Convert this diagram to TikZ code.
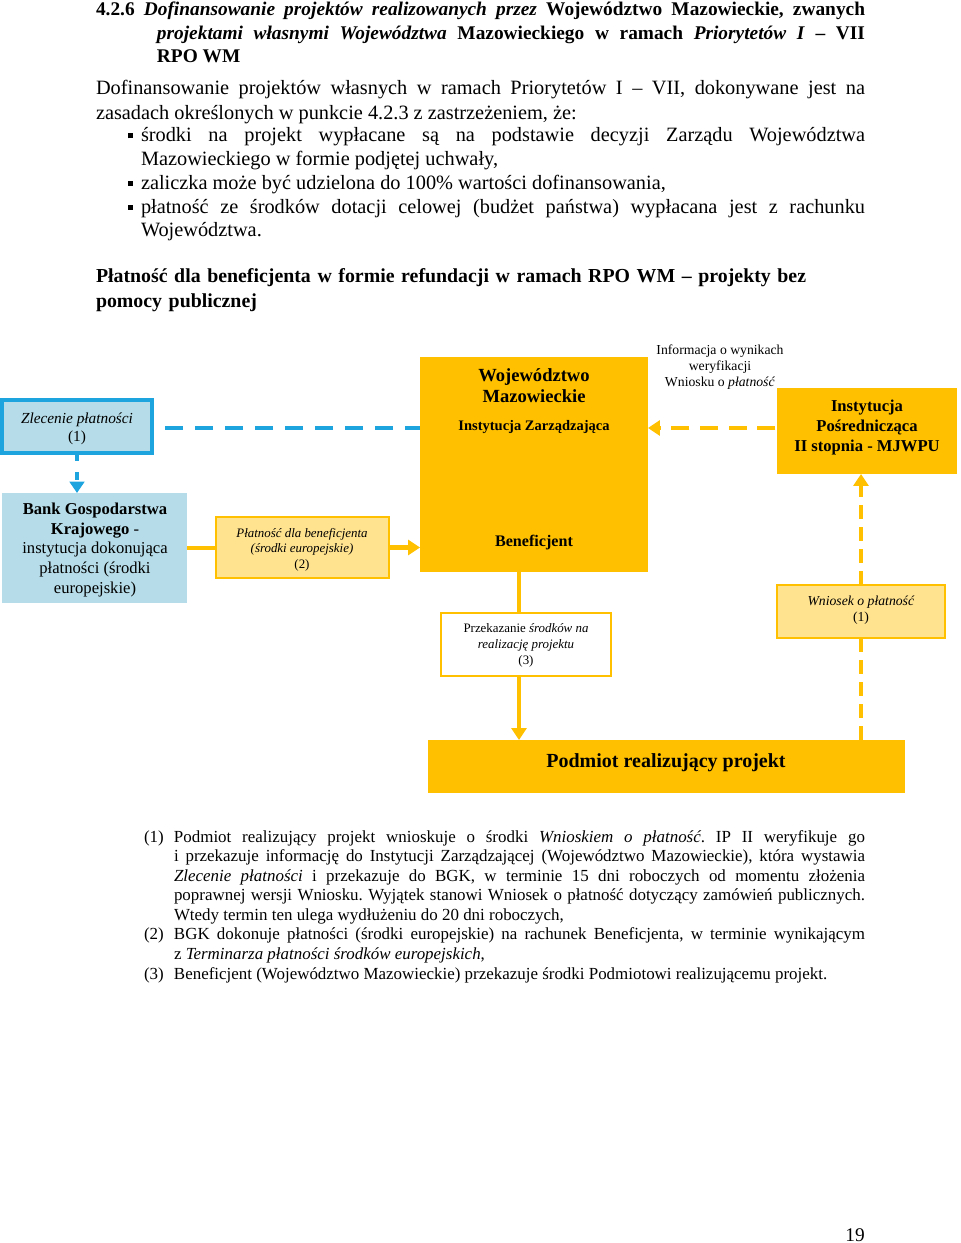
\documentclass[tikz,border=0pt]{standalone}
\usepackage{fontspec}
\setmainfont{Liberation Serif}
\usetikzlibrary{arrows.meta,fit}
\definecolor{yel}{HTML}{FFC000}
\definecolor{lyel}{HTML}{FFE38F}
\definecolor{lblue}{HTML}{B5DCE8}
\definecolor{dblue}{HTML}{1DA4DF}
\newcommand{\fs}[2]{\fontsize{#1}{#2}\selectfont}
\frenchspacing
\begin{document}
\begin{tikzpicture}[x=0.62pt,y=-0.62pt,
  blk/.style={inner sep=0pt, outer sep=0pt},
  para/.style={anchor=base west, inner sep=0pt, outer sep=0pt, align=justify},
  lbl/.style={inner sep=0pt, align=center},
  ybox/.style={blk, fill=yel},
  lybox/.style={blk, fill=lyel, draw=yel, line width=1.4pt},
  wybox/.style={blk, fill=white, draw=yel, line width=1.4pt},
  bbox/.style={blk, fill=lblue},
  bline/.style={draw=dblue, line width=2.9pt, dash pattern=on 11.2pt off 7.4pt},
  ysolid/.style={draw=yel, line width=2.9pt},
  ydashh/.style={draw=yel, line width=2.9pt, dash pattern=on 11.2pt off 6.6pt},
  ydashv/.style={draw=yel, line width=2.5pt, dash pattern=on 8.7pt off 5pt},
  ytip/.style={-{Triangle[length=7.4pt,width=9.3pt]}},
  btip/.style={-{Triangle[length=7pt,width=9pt]}}
]
\useasboundingbox (0,0) rectangle (960,1243);

% ---------- text above the diagram ----------
\node[para, text width=476.8pt, font=\bfseries\fs{12}{14.3}] (head) at (96,16)
 {\hangindent=37.8pt\hangafter=1 4.2.6 \textit{Dofinansowanie projektów realizowanych przez} Województwo Mazowieckie, zwanych\linebreak
 \textit{projektami własnymi Województwa} Mazowieckiego w ramach \textit{Priorytetów I} – VII\linebreak RPO WM\par};

\node[para, text width=476.8pt, font=\fs{12.6}{14.9}] (intro) at (96,95)
 {Dofinansowanie projektów własnych w ramach Priorytetów I – VII, dokonywane jest na\linebreak zasadach określonych w punkcie 4.2.3 z zastrzeżeniem, że:};

\node[para, text width=448.9pt, font=\fs{12.6}{14.7}] (bul) at (141,142)
 {\parskip=0pt
 \noindent\llap{\rule[2.2pt]{3.1pt}{3.1pt}\hspace{5pt}}środki na projekt wypłacane są na podstawie decyzji Zarządu Województwa\linebreak Mazowieckiego w formie podjętej uchwały,\par
 \noindent\llap{\rule[2.2pt]{3.1pt}{3.1pt}\hspace{5pt}}zaliczka może być udzielona do 100\% wartości dofinansowania,\par
 \noindent\llap{\rule[2.2pt]{3.1pt}{3.1pt}\hspace{5pt}}płatność ze środków dotacji celowej (budżet państwa) wypłacana jest z rachunku\linebreak Województwa.\par};

\node[para, align=left, text width=476.8pt, font=\bfseries\fs{12.3}{14.9}] (sub) at (96,283)
 {Płatność dla beneficjenta w formie refundacji w ramach RPO WM – projekty bez\\pomocy publicznej};

% ---------- diagram boxes ----------
\node[bbox, draw=dblue, line width=1.9pt, fit={(2,400)(152,453)}] (zl) {};
\node[ybox, fit={(420,357)(648,572)}] (woj) {};
\node[ybox, fit={(777,388)(957,474)}] (ip) {};
\node[bbox, fit={(2,493)(187,603)}] (bgk) {};
\node[lybox, fit={(216,517)(389,578)}] (plat) {};
\node[wybox, fit={(441,613)(611,676)}] (przek) {};
\node[lybox, fit={(777,585)(945,638)}] (wn) {};
\node[ybox, fit={(428,740)(905,793)}] (pod) {};

% ---------- labels ----------
\node[lbl, font=\fs{9.5}{11.2}] (zlt) at (77,428.5) {\textit{Zlecenie płatności}\\(1)};
\node[lbl, font=\fs{8.5}{9.9}] (info) at (720,367) {Informacja o wynikach\\weryfikacji\\Wniosku o \textit{płatność}};
\node[lbl, font=\bfseries\fs{11.5}{13}] (wojt) at (534,386) {Województwo\\Mazowieckie};
\node[lbl, font=\bfseries\fs{9}{11}] (izt) at (534,427) {Instytucja Zarządzająca};
\node[lbl, font=\bfseries\fs{10}{12}] (bent) at (534,543) {Beneficjent};
\node[lbl, font=\bfseries\fs{10.3}{12.1}] (ipt) at (867,427.5) {Instytucja\\Pośrednicząca\\II stopnia - MJWPU};
\node[lbl, font=\fs{10.3}{12.1}] (bgkt) at (95,550) {\textbf{Bank Gospodarstwa}\\\textbf{Krajowego} -\\instytucja dokonująca\\płatności (środki\\europejskie)};
\node[lbl, font=\fs{8}{9.6}] (platt) at (302,549.5) {\textit{Płatność dla beneficjenta}\\\textit{(środki europejskie)}\\(2)};
\node[lbl, font=\fs{8}{9.9}] (przekt) at (526,645.5) {Przekazanie \textit{środków na}\\\textit{realizację projektu}\\(3)};
\node[lbl, font=\fs{8.5}{9.9}] (wnt) at (861,610) {\textit{Wniosek o płatność}\\(1)};
\node[lbl, font=\bfseries\fs{12.4}{14}] (podt) at (666,763) {Podmiot realizujący projekt};

% ---------- connectors ----------
\coordinate (row) at (0,428);
\coordinate (col) at (519,0);
\draw[bline, shorten <=8pt] (zl.east |- row) -- (woj.west |- row);
\draw[draw=dblue, line width=2.9pt, dash pattern=on 5pt off 7pt, btip] (zl.south) -- (zl.south |- bgk.north);
\draw[ydashh, ytip, shorten <=1pt] (ip.west |- row) -- (woj.east |- row);
\draw[ysolid] (bgk.east) -- (bgk.east -| plat.west);
\draw[ysolid, ytip] (plat.east) -- (plat.east -| woj.west);
\draw[ysolid] (woj.south -| col) -- (przek.north -| col);
\draw[ysolid, ytip] (przek.south -| col) -- (pod.north -| col);
\draw[ydashv] (pod.north -| wn.south) -- (wn.south);
\draw[ydashv, ytip] (wn.north) -- (wn.north |- ip.south);

% ---------- footnotes ----------
\node[para, text width=447pt, font=\fs{10.5}{12.15}] (notes) at (144,842)
 {\parskip=0pt
 \hangindent=18.6pt\hangafter=1\noindent\makebox[18.6pt][l]{(1)}Podmiot realizujący projekt wnioskuje o środki \textit{Wnioskiem o płatność}. IP II weryfikuje go\linebreak
 i przekazuje informację do Instytucji Zarządzającej (Województwo Mazowieckie), która wystawia\linebreak
 \textit{Zlecenie płatności} i przekazuje do BGK, w terminie 15 dni roboczych od momentu złożenia\linebreak
 poprawnej wersji Wniosku. Wyjątek stanowi Wniosek o płatność dotyczący zamówień publicznych.\linebreak
 Wtedy termin ten ulega wydłużeniu do 20 dni roboczych,\par
 \hangindent=18.6pt\hangafter=1\noindent\makebox[18.6pt][l]{(2)}BGK dokonuje płatności (środki europejskie) na rachunek Beneficjenta, w terminie wynikającym\linebreak
 z \textit{Terminarza płatności środków europejskich},\par
 \hangindent=18.6pt\hangafter=1\noindent\makebox[18.6pt][l]{(3)}Beneficjent (Województwo Mazowieckie) przekazuje środki Podmiotowi realizującemu projekt.\par};

\node[anchor=base east, inner sep=0pt, font=\fs{12}{14}] (pnum) at (865,1241) {19};
\end{tikzpicture}
\end{document}
